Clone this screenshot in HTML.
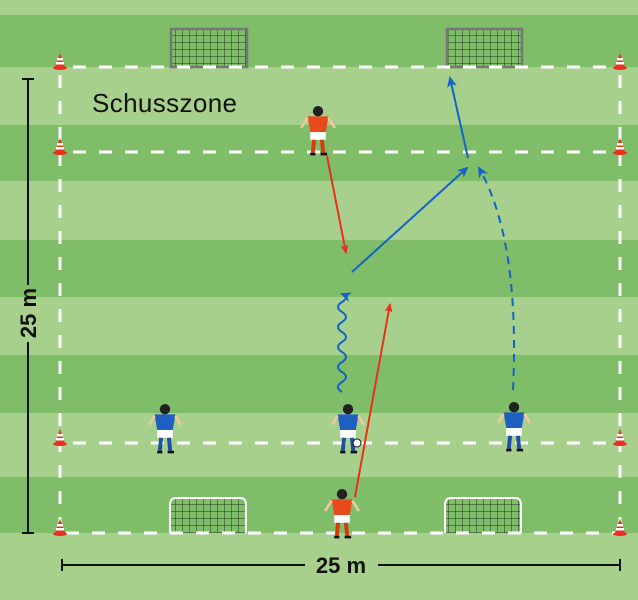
<!DOCTYPE html>
<html><head><meta charset="utf-8"><style>
html,body{margin:0;padding:0;width:638px;height:600px;overflow:hidden;background:#a6d08c}
svg{display:block}
</style></head><body>
<svg width="638" height="600" viewBox="0 0 638 600" xmlns="http://www.w3.org/2000/svg">
<defs>
<pattern id="net" width="7" height="7" patternUnits="userSpaceOnUse"><path d="M0 0H7M0 0V7" stroke="#1d3a1d" stroke-width="1" fill="none"/></pattern>
<g id="cone"><polygon points="0,-10 -5,4 5,4" fill="#e8301c"/><rect x="-3" y="-5" width="6" height="2.5" fill="#fff"/><rect x="-4" y="-1" width="8" height="2.5" fill="#fff"/><ellipse cx="0" cy="5" rx="7" ry="2" fill="#e8301c"/></g>
<g id="pr"><circle cx="0" cy="-16" r="4" fill="#222"/><path d="M-8-12H8L6 0H-6Z" fill="#e84a1c"/><path d="M-8-11L-13 -3M8-11L13-3" stroke="#f0c8a0" stroke-width="2"/><rect x="-6" y="0" width="12" height="6" fill="#fff"/><path d="M-3 6L-4 16M3 6L4 16" stroke="#d83a10" stroke-width="3"/><path d="M-6 17H-2M2 17H7" stroke="#111" stroke-width="2"/></g>
<g id="pb"><circle cx="0" cy="-16" r="4" fill="#222"/><path d="M-8-12H8L6 0H-6Z" fill="#1f5fbf"/><path d="M-8-11L-12 -4M8-11L12-4" stroke="#f0c8a0" stroke-width="2"/><rect x="-6" y="0" width="12" height="6" fill="#fff"/><path d="M-3 6L-4 16M3 6L4 16" stroke="#1f4fa8" stroke-width="3"/><path d="M-6 17H-2M2 17H7" stroke="#111" stroke-width="2"/></g>
<marker id="ar" markerWidth="10" markerHeight="10" refX="8" refY="5" orient="auto" markerUnits="userSpaceOnUse"><path d="M0 1L9 5L0 9L2 5Z" fill="#e8301c"/></marker>
<marker id="ab" markerWidth="12" markerHeight="12" refX="9" refY="6" orient="auto" markerUnits="userSpaceOnUse"><path d="M0 1L11 6L0 11L3 6Z" fill="#1463c8"/></marker>
</defs>
<rect width="638" height="600" fill="#a6d08c"/>
<g fill="#7fbd69">
<rect y="15" width="638" height="52"/><rect y="125" width="638" height="56"/><rect y="240" width="638" height="57"/><rect y="355" width="638" height="58"/><rect y="477" width="638" height="56"/>
</g>
<g stroke="#777" stroke-width="2.5">
<rect x="171" y="29" width="76" height="38" fill="url(#net)"/>
<rect x="447" y="29" width="75" height="38" fill="url(#net)"/>
</g>
<g stroke="#fff" stroke-width="2" fill="url(#net)">
<path d="M170 533V505Q170 498 176 498H240Q246 498 246 505V533"/>
<path d="M445 533V505Q445 498 451 498H515Q521 498 521 505V533"/>
</g>
<g stroke="#fff" stroke-width="3" stroke-dasharray="13,13" fill="none">
<path d="M73 67H620M73 152H620M73 443H620M66 533H620"/>
<path d="M60 75V530M620 75V530"/>
</g>
<use href="#cone" x="60" y="63"/><use href="#cone" x="620" y="63"/>
<use href="#cone" x="60" y="148"/><use href="#cone" x="620" y="148"/>
<use href="#cone" x="60" y="439"/><use href="#cone" x="620" y="439"/>
<use href="#cone" x="60" y="529"/><use href="#cone" x="620" y="529"/>
<g stroke="#111" stroke-width="2">
<path d="M28 79V285M28 342V533M22 79H34M22 533H34"/>
<path d="M62 565H305M378 565H620M62 559V571M620 559V571"/>
</g>
<text transform="translate(36 313) rotate(-90)" font-family="Liberation Sans,sans-serif" font-weight="bold" font-size="22" fill="#111" text-anchor="middle">25 m</text>
<text x="341" y="573" font-family="Liberation Sans,sans-serif" font-weight="bold" font-size="22" fill="#111" text-anchor="middle">25 m</text>
<text x="92" y="112" font-family="Liberation Sans,sans-serif" font-size="26" fill="#111" textLength="145">Schusszone</text>
<g fill="none" stroke-width="2">
<path d="M327 156L346 253" stroke="#e8301c" marker-end="url(#ar)"/>
<path d="M355 497L390 304" stroke="#e8301c" marker-end="url(#ar)"/>
<path d="M352 272L467 168" stroke="#1463c8" marker-end="url(#ab)"/>
<path d="M468 158L450 78" stroke="#1463c8" marker-end="url(#ab)"/>
<path d="M513 390Q520 240 479 168" stroke="#1463c8" stroke-dasharray="8,6" marker-end="url(#ab)"/>
<path d="M342 392q-8-5 0-10q8-5 0-10q-8-5 0-10q8-5 0-10q-8-5 0-10q8-5 0-10q-8-5 0-10q8-5 0-10q-8-5 0-10q8-5 0-8" stroke="#1463c8" marker-end="url(#ab)"/>
</g>
<use href="#pr" transform="translate(318 132) scale(1.3)"/>
<use href="#pr" transform="translate(342 515) scale(1.3)"/>
<use href="#pb" transform="translate(165 430) scale(1.3)"/>
<use href="#pb" transform="translate(348 430) scale(1.3)"/>
<use href="#pb" transform="translate(514 428) scale(1.3)"/>
<circle cx="357" cy="443" r="4" fill="#fff" stroke="#111"/>
</svg>
</body></html>
